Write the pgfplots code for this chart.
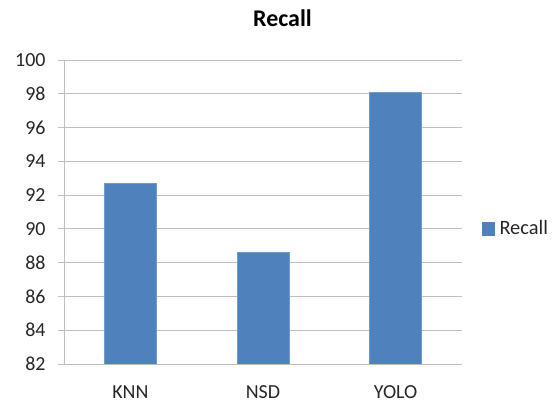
\documentclass[border=0pt]{standalone}
\usepackage{pgfplots}
\pgfplotsset{compat=1.18}
\usepackage{fontspec}
\setmainfont{Carlito}
\definecolor{barblue}{HTML}{4F81BD}
\definecolor{gridgray}{HTML}{BFBFBF}
\begin{document}
\begin{tikzpicture}
\path[use as bounding box] (-64bp,-41bp) rectangle (488bp,364bp);
\begin{axis}[
  at={(0,0)}, anchor=south west,
  scale only axis,
  width=398bp, height=304bp,
  xmin=-0.5, xmax=2.5,
  ymin=82, ymax=100,
  ytick={82,84,...,100},
  xtick={0,1,2},
  xticklabels={KNN,NSD,YOLO},
  major x tick style={draw=none},
  extra x ticks={-0.5,0.5,1.5,2.5},
  extra x tick labels={},
  extra x tick style={major tick length=8bp, tick style={draw=gridgray}, grid=none},
  axis x line*=bottom,
  axis y line*=left,
  axis line style={draw=gridgray, line width=0.8pt},
  tick align=outside,
  major tick length=6bp,
  tick style={draw=gridgray, line width=0.8pt},
  ymajorgrids,
  major grid style={draw=gridgray, line width=0.8pt},
  /pgf/number format/assume math mode=true,
  tick label style={font=\fontsize{20}{23}\selectfont, text=black!85},
  yticklabel style={xshift=-9bp},
  xticklabel style={yshift=-12bp},
  title={\textbf{Recall}},
  title style={at={(rel axis cs:0.549,1)}, anchor=center, yshift=36bp, font=\fontsize{24}{27}\selectfont},
  legend style={at={(rel axis cs:1.045,0.446)}, anchor=west, draw=none, fill=none,
    font=\fontsize{20.5}{23}\selectfont, text=black!85, inner xsep=2bp,
    legend cell align=left},
  ybar, bar width=52bp,
]
\addplot[fill=barblue, draw=barblue!80!white, bar shift=0pt,
  legend image code/.code={\fill[barblue] (0bp,-6.5bp) rectangle (12bp,6.5bp);}]
  coordinates {(0,92.7) (1,88.6) (2,98.1)};
\addlegendentry{\hspace{3bp}Recall}
\end{axis}
\end{tikzpicture}
\end{document}
